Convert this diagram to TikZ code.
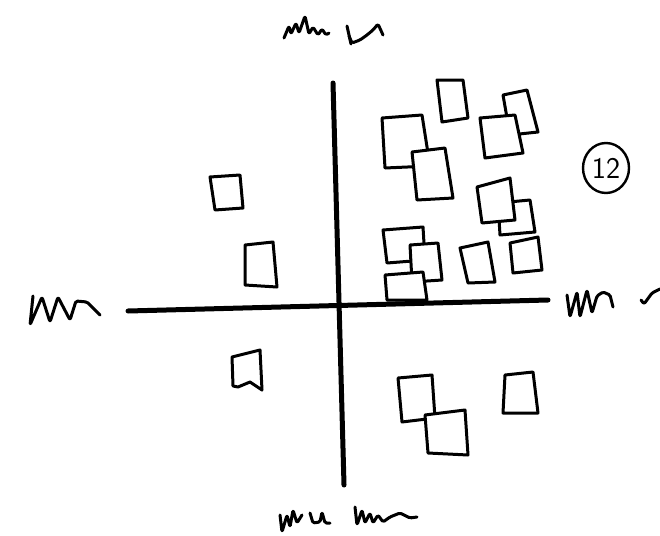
\documentclass[tikz,border=0pt]{standalone}
\usetikzlibrary{shapes.geometric}
\begin{document}
\begin{tikzpicture}[x=1pt,y=-1pt,
  box/.style={draw=black,line width=3pt,line join=round,line cap=round,fill=white},
  axis/.style={draw=black,line width=5pt,line cap=round},
  scrib/.style={draw=black,line width=3pt,line join=round,line cap=round,rounded corners=1.5pt},
  label12/.style={draw=black,line width=2.4pt,ellipse,inner sep=0pt,minimum width=46pt,minimum height=50pt,font=\sffamily\fontsize{30}{30}\selectfont}]
\useasboundingbox (0,0) rectangle (660,535);
% axes
\coordinate (vt) at (333,83);
\coordinate (vb) at (344,485);
\coordinate (hl) at (128,311);
\coordinate (hr) at (548,300);
\draw[axis] (vt) -- (vb);
\draw[axis] (hl) -- (hr);
% left quadrant boxes
\draw[box] (210,177) -- (240,175) -- (243,208) -- (215,210) -- cycle;
\draw[box] (245,245) -- (273,242) -- (277,287) -- (245,285) -- cycle;
\draw[box] (233,386) -- (232,357) -- (260,350) -- (262,390) -- (250,382) -- (238,387) -- cycle;
% upper right quadrant
\draw[box] (437,80) -- (463,80) -- (468,118) -- (442,122) -- cycle;
\draw[box] (382,118) -- (422,115) -- (430,166) -- (385,168) -- cycle;
\draw[box] (412,152) -- (445,148) -- (453,198) -- (417,200) -- cycle;
\draw[box] (503,95) -- (527,90) -- (538,132) -- (510,135) -- cycle;
\draw[box] (480,118) -- (515,115) -- (523,153) -- (485,158) -- cycle;
\draw[box] (498,203) -- (530,200) -- (535,232) -- (500,235) -- cycle;
\draw[box] (477,187) -- (510,178) -- (515,220) -- (482,223) -- cycle;
\draw[box] (383,230) -- (423,227) -- (425,260) -- (387,263) -- cycle;
\draw[box] (410,245) -- (438,243) -- (442,280) -- (412,282) -- cycle;
\draw[box] (385,275) -- (423,272) -- (427,300) -- (387,300) -- cycle;
\draw[box] (460,248) -- (488,242) -- (495,282) -- (468,283) -- cycle;
\draw[box] (510,243) -- (538,237) -- (542,270) -- (513,273) -- cycle;
% lower right quadrant
\draw[box] (398,378) -- (432,375) -- (435,418) -- (402,422) -- cycle;
\draw[box] (425,415) -- (465,410) -- (468,455) -- (428,453) -- cycle;
\draw[box] (505,375) -- (533,372) -- (538,413) -- (503,413) -- cycle;
% circled number
\node[label12] (num) at (606,168) {12};
% scribbled axis labels
\draw[scrib] (284,38) -- (289,26) -- (291,34) -- (296,23) -- (299,33) -- (305,16) -- (309,34) -- (313,27) -- (318,35) -- (322,29) -- (326,35) -- (329,33);
\draw[scrib] (347,26) -- (351,44);
\draw[scrib] (349,36) -- (352,43) -- (360,40) -- (367,35) -- (373,30) -- (378,24) -- (383,35);
\draw[scrib] (33,296) -- (30,325) -- (42,297) -- (50,322) -- (58,297) -- (70,320) -- (76,301) -- (87,302) -- (100,315);
\draw[scrib] (567,295) -- (570,317) -- (577,292) -- (580,317) -- (587,290) -- (592,313) -- (597,296) -- (603,292) -- (610,295) -- (613,307);
\draw[scrib] (641,300) -- (644,304) -- (652,293) -- (660,289);
\draw[scrib] (280,515) -- (282,532) -- (287,515) -- (290,527) -- (293,510) -- (297,523) -- (302,515);
\draw[scrib] (310,513) -- (313,523) -- (320,522) -- (322,512) -- (325,523) -- (330,523);
\draw[scrib] (355,507) -- (357,525) -- (362,510) -- (365,523) -- (370,513) -- (373,523) -- (378,515) -- (383,522) -- (390,517) -- (400,513) -- (410,518) -- (417,517);
\end{tikzpicture}
\end{document}
